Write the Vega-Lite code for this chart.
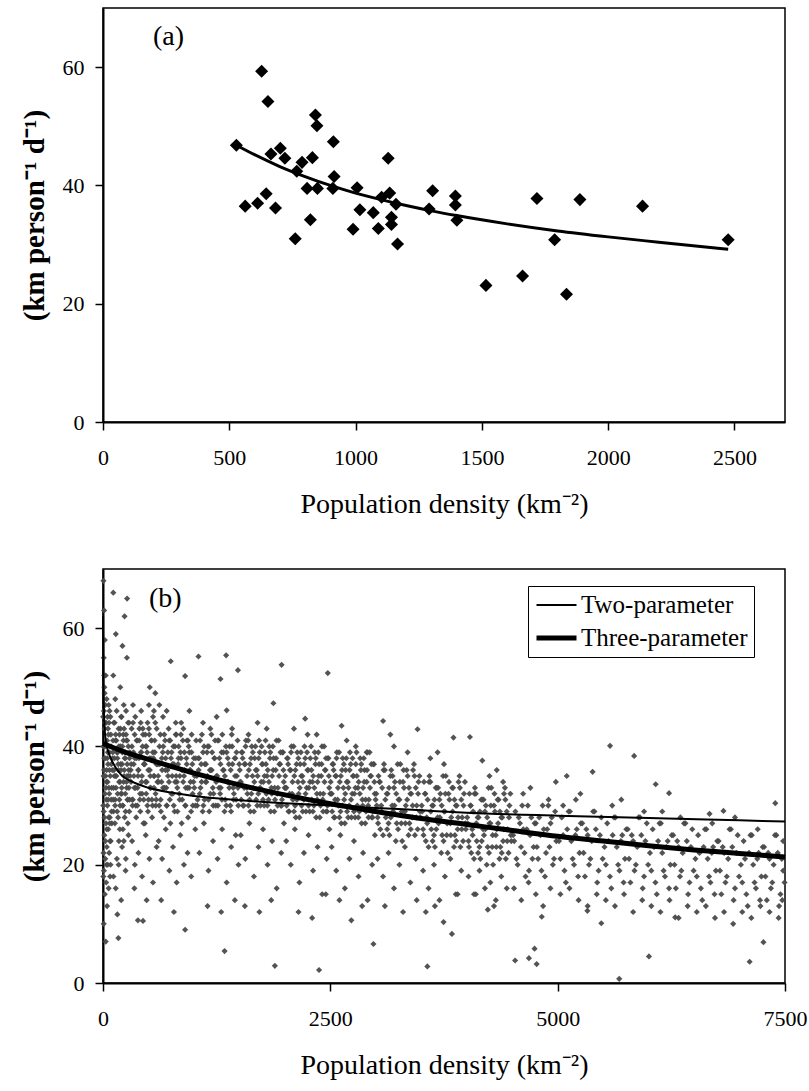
{
"$schema":"https://vega.github.io/schema/vega-lite/v6.json",
"background":"white",
"padding":{"left":19,"top":7,"right":3,"bottom":2},
"spacing":49,
"config":{
 "view":{"stroke":"black","strokeWidth":1.5},
 "font":"Liberation Serif",
 "axis":{"grid":false,"domainColor":"black","domainWidth":2,"tickColor":"black","tickSize":8,"tickWidth":1.5,"labelColor":"black","labelFont":"Liberation Serif","labelFontSize":22,"labelPadding":11,"titleColor":"black","titleFont":"Liberation Serif","labelFlush":false,"format":"d"},
 "axisX":{"labelPadding":17,"titleFontSize":28,"titleFontWeight":"normal","titlePadding":22},
 "axisY":{"titleFontSize":29,"titleFontWeight":"bold","titlePadding":13}
},
"datasets":{
"a":[{"x":528,"y":46.8},{"x":563,"y":36.5},{"x":612,"y":37.0},{"x":628,"y":59.3},{"x":646,"y":38.6},{"x":653,"y":54.2},{"x":665,"y":45.3},{"x":683,"y":36.2},{"x":702,"y":46.3},{"x":720,"y":44.6},{"x":761,"y":31.0},{"x":767,"y":42.4},{"x":788,"y":43.9},{"x":808,"y":39.5},{"x":821,"y":34.2},{"x":829,"y":44.7},{"x":841,"y":51.9},{"x":847,"y":50.1},{"x":849,"y":39.5},{"x":912,"y":47.4},{"x":915,"y":41.5},{"x":910,"y":39.5},{"x":990,"y":32.6},{"x":1006,"y":39.6},{"x":1017,"y":35.9},{"x":1070,"y":35.4},{"x":1090,"y":32.7},{"x":1103,"y":38.0},{"x":1129,"y":44.6},{"x":1135,"y":38.7},{"x":1142,"y":34.6},{"x":1142,"y":33.4},{"x":1160,"y":36.8},{"x":1166,"y":30.1},{"x":1291,"y":36.0},{"x":1305,"y":39.1},{"x":1395,"y":38.2},{"x":1395,"y":36.7},{"x":1401,"y":34.1},{"x":1516,"y":23.1},{"x":1661,"y":24.7},{"x":1718,"y":37.8},{"x":1788,"y":30.8},{"x":1835,"y":21.6},{"x":1888,"y":37.6},{"x":2136,"y":36.5},{"x":2475,"y":30.8}],
"acurve":[{"x":528,"y":46.8},{"x":600,"y":45.2},{"x":700,"y":43.2},{"x":800,"y":41.5},{"x":900,"y":40.0},{"x":1000,"y":38.7},{"x":1100,"y":37.6},{"x":1200,"y":36.6},{"x":1300,"y":35.7},{"x":1400,"y":34.9},{"x":1600,"y":33.5},{"x":1800,"y":32.3},{"x":2000,"y":31.3},{"x":2200,"y":30.4},{"x":2475,"y":29.2}],
"bcurve":[
{"series":"Two-parameter","x":1,"y":62},{"series":"Two-parameter","x":5,"y":50},{"series":"Two-parameter","x":15,"y":44},{"series":"Two-parameter","x":30,"y":41},{"series":"Two-parameter","x":60,"y":39},{"series":"Two-parameter","x":100,"y":37.5},{"series":"Two-parameter","x":200,"y":35.2},{"series":"Two-parameter","x":300,"y":34.2},{"series":"Two-parameter","x":500,"y":33},{"series":"Two-parameter","x":750,"y":32.2},{"series":"Two-parameter","x":1000,"y":31.6},{"series":"Two-parameter","x":1500,"y":30.9},{"series":"Two-parameter","x":2000,"y":30.4},{"series":"Two-parameter","x":2500,"y":30},{"series":"Two-parameter","x":3000,"y":29.6},{"series":"Two-parameter","x":3500,"y":29.2},{"series":"Two-parameter","x":4000,"y":28.8},{"series":"Two-parameter","x":5000,"y":28.3},{"series":"Two-parameter","x":6000,"y":27.9},{"series":"Two-parameter","x":7000,"y":27.5},{"series":"Two-parameter","x":7500,"y":27.3},
{"series":"Three-parameter","x":0,"y":40.5},{"series":"Three-parameter","x":250,"y":39},{"series":"Three-parameter","x":500,"y":37.8},{"series":"Three-parameter","x":1000,"y":35.5},{"series":"Three-parameter","x":1500,"y":33.5},{"series":"Three-parameter","x":2000,"y":31.8},{"series":"Three-parameter","x":2500,"y":30.3},{"series":"Three-parameter","x":3000,"y":29},{"series":"Three-parameter","x":3500,"y":27.8},{"series":"Three-parameter","x":4000,"y":26.8},{"series":"Three-parameter","x":4500,"y":25.8},{"series":"Three-parameter","x":5000,"y":24.8},{"series":"Three-parameter","x":5500,"y":24},{"series":"Three-parameter","x":6000,"y":23.2},{"series":"Three-parameter","x":6500,"y":22.5},{"series":"Three-parameter","x":7000,"y":21.9},{"series":"Three-parameter","x":7500,"y":21.3}],
"b":[
{"x":5,"y":68},{"x":12,"y":63},{"x":20,"y":58},{"x":8,"y":55},{"x":30,"y":52},{"x":15,"y":50},{"x":40,"y":48},{"x":25,"y":47},{"x":10,"y":46},{"x":50,"y":45},{"x":35,"y":44},{"x":18,"y":43},{"x":60,"y":42},{"x":45,"y":41},{"x":5,"y":40},{"x":70,"y":39},{"x":28,"y":38},{"x":55,"y":37},{"x":12,"y":36},{"x":80,"y":35},{"x":38,"y":34},{"x":65,"y":33},{"x":22,"y":32},{"x":90,"y":31},{"x":48,"y":30},{"x":8,"y":29},{"x":75,"y":28},{"x":33,"y":27},{"x":58,"y":26},{"x":15,"y":25},{"x":85,"y":24},{"x":42,"y":23},{"x":68,"y":22},{"x":25,"y":21},{"x":52,"y":20},{"x":10,"y":19},{"x":78,"y":18},{"x":35,"y":17},{"x":62,"y":16},{"x":20,"y":15},{"x":45,"y":13},{"x":8,"y":10},{"x":30,"y":7},{"x":55,"y":43},{"x":72,"y":46},{"x":88,"y":40},{"x":18,"y":49},{"x":40,"y":36},{"x":95,"y":33},{"x":3,"y":30},{"x":62,"y":28},{"x":27,"y":24},{"x":83,"y":20},{"x":50,"y":34},{"x":14,"y":38},{"x":66,"y":44},{"x":92,"y":37},{"x":36,"y":31},{"x":6,"y":22},{"x":74,"y":27},
{"x":2,"y":45},{"x":7,"y":35},{"x":16,"y":28},{"x":23,"y":40},{"x":32,"y":33},{"x":41,"y":26},{"x":47,"y":38},{"x":57,"y":31},{"x":63,"y":47},{"x":71,"y":36},{"x":77,"y":24},{"x":86,"y":42},{"x":93,"y":29},{"x":4,"y":18},{"x":13,"y":52},{"x":21,"y":44},{"x":29,"y":35},{"x":38,"y":20},{"x":53,"y":39},{"x":69,"y":32},{"x":81,"y":45},{"x":97,"y":27},
{"x":105,"y":38},{"x":112,"y":31},{"x":118,"y":44},{"x":124,"y":35},{"x":131,"y":27},{"x":137,"y":41},{"x":143,"y":33},{"x":150,"y":46},{"x":156,"y":29},{"x":162,"y":39},{"x":169,"y":36},{"x":175,"y":24},{"x":181,"y":42},{"x":188,"y":30},{"x":194,"y":37},{"x":200,"y":45},{"x":207,"y":32},{"x":213,"y":40},{"x":219,"y":26},{"x":226,"y":34},{"x":232,"y":43},{"x":238,"y":28},{"x":245,"y":38},{"x":251,"y":21},{"x":257,"y":41},{"x":264,"y":35},{"x":270,"y":31},{"x":276,"y":44},{"x":283,"y":36},{"x":289,"y":29},{"x":295,"y":39},
{"x":108,"y":39},{"x":115,"y":29},{"x":121,"y":36},{"x":128,"y":44},{"x":134,"y":31},{"x":140,"y":35},{"x":147,"y":41},{"x":153,"y":21},{"x":159,"y":38},{"x":166,"y":28},{"x":172,"y":43},{"x":178,"y":34},{"x":185,"y":26},{"x":191,"y":40},{"x":197,"y":32},{"x":204,"y":45},{"x":210,"y":37},{"x":216,"y":30},{"x":223,"y":42},{"x":229,"y":24},{"x":235,"y":36},{"x":242,"y":39},{"x":248,"y":29},{"x":254,"y":46},{"x":261,"y":33},{"x":267,"y":41},{"x":273,"y":27},{"x":280,"y":35},{"x":286,"y":44},{"x":292,"y":31},
{"x":103,"y":36},{"x":110,"y":41},{"x":117,"y":33},{"x":126,"y":38},{"x":133,"y":30},{"x":139,"y":42},{"x":146,"y":35},{"x":152,"y":39},{"x":161,"y":32},{"x":167,"y":37},{"x":174,"y":40},{"x":180,"y":31},{"x":187,"y":34},{"x":193,"y":43},{"x":199,"y":36},{"x":206,"y":33},{"x":212,"y":39},{"x":218,"y":30},{"x":225,"y":41},{"x":231,"y":35},{"x":239,"y":38},{"x":246,"y":32},{"x":253,"y":42},{"x":259,"y":34},{"x":266,"y":37},{"x":272,"y":31},{"x":279,"y":40},{"x":285,"y":33},{"x":291,"y":38},{"x":298,"y":35},
{"x":115,"y":18},{"x":140,"y":16},{"x":172,"y":20},{"x":210,"y":23},{"x":248,"y":19},{"x":280,"y":25},{"x":135,"y":48},{"x":190,"y":50},{"x":228,"y":47},{"x":113,"y":52},{"x":263,"y":55},{"x":141,"y":59},{"x":214,"y":57},{"x":113,"y":66},{"x":265,"y":65},{"x":237,"y":62},{"x":158,"y":11.6},{"x":169,"y":7.6},{"x":200,"y":14},
{"x":305,"y":36},{"x":315,"y":43},{"x":325,"y":30},{"x":335,"y":39},{"x":345,"y":33},{"x":355,"y":45},{"x":365,"y":28},{"x":375,"y":41},{"x":385,"y":35},{"x":395,"y":38},{"x":405,"y":31},{"x":415,"y":44},{"x":425,"y":34},{"x":435,"y":40},{"x":445,"y":27},{"x":455,"y":37},{"x":465,"y":42},{"x":475,"y":32},{"x":485,"y":39},{"x":495,"y":29},{"x":505,"y":43},{"x":515,"y":36},{"x":525,"y":33},{"x":535,"y":41},{"x":545,"y":30},{"x":555,"y":38},{"x":565,"y":35},{"x":575,"y":44},{"x":585,"y":31},{"x":595,"y":37},
{"x":310,"y":37},{"x":320,"y":31},{"x":330,"y":44},{"x":340,"y":35},{"x":350,"y":38},{"x":360,"y":30},{"x":370,"y":41},{"x":380,"y":33},{"x":390,"y":36},{"x":400,"y":43},{"x":410,"y":29},{"x":420,"y":39},{"x":430,"y":32},{"x":440,"y":42},{"x":450,"y":37},{"x":460,"y":27},{"x":470,"y":40},{"x":480,"y":34},{"x":490,"y":44},{"x":500,"y":31},{"x":510,"y":38},{"x":520,"y":35},{"x":530,"y":41},{"x":540,"y":28},{"x":550,"y":45},{"x":560,"y":33},{"x":570,"y":39},{"x":580,"y":30},{"x":590,"y":43},
{"x":308,"y":34},{"x":318,"y":40},{"x":328,"y":31},{"x":338,"y":37},{"x":348,"y":42},{"x":358,"y":33},{"x":368,"y":38},{"x":378,"y":30},{"x":388,"y":36},{"x":398,"y":41},{"x":408,"y":32},{"x":418,"y":39},{"x":428,"y":35},{"x":438,"y":43},{"x":448,"y":31},{"x":458,"y":37},{"x":468,"y":34},{"x":478,"y":40},{"x":488,"y":30},{"x":498,"y":36},{"x":508,"y":42},{"x":518,"y":33},{"x":528,"y":38},{"x":538,"y":31},{"x":548,"y":39},{"x":558,"y":35},{"x":568,"y":41},{"x":578,"y":32},{"x":588,"y":37},{"x":598,"y":34},
{"x":320,"y":24},{"x":350,"y":20},{"x":390,"y":22},{"x":430,"y":18},{"x":470,"y":25},{"x":510,"y":21},{"x":550,"y":17},{"x":590,"y":23},{"x":345,"y":16},{"x":480,"y":14},{"x":384,"y":10.6},{"x":440,"y":10.5},{"x":514,"y":50},{"x":575,"y":49},{"x":505,"y":47},{"x":330,"y":47},{"x":420,"y":46},{"x":560,"y":46},
{"x":605,"y":37},{"x":618,"y":30},{"x":631,"y":42},{"x":644,"y":34},{"x":657,"y":39},{"x":670,"y":28},{"x":683,"y":41},{"x":696,"y":33},{"x":709,"y":36},{"x":722,"y":43},{"x":735,"y":31},{"x":748,"y":38},{"x":761,"y":35},{"x":774,"y":40},{"x":787,"y":29},{"x":800,"y":42},{"x":813,"y":34},{"x":826,"y":37},{"x":839,"y":32},{"x":852,"y":39},{"x":865,"y":27},{"x":878,"y":41},{"x":891,"y":35},{"x":904,"y":30},{"x":917,"y":38},{"x":930,"y":33},{"x":943,"y":40},{"x":956,"y":36},{"x":969,"y":29},{"x":982,"y":37},{"x":995,"y":34},
{"x":611,"y":34},{"x":624,"y":37},{"x":637,"y":29},{"x":650,"y":36},{"x":663,"y":40},{"x":676,"y":33},{"x":689,"y":38},{"x":702,"y":30},{"x":715,"y":35},{"x":728,"y":41},{"x":741,"y":27},{"x":754,"y":39},{"x":767,"y":32},{"x":780,"y":37},{"x":793,"y":34},{"x":806,"y":42},{"x":819,"y":29},{"x":832,"y":40},{"x":845,"y":35},{"x":858,"y":38},{"x":871,"y":31},{"x":884,"y":43},{"x":897,"y":36},{"x":910,"y":33},{"x":923,"y":41},{"x":936,"y":28},{"x":949,"y":39},{"x":962,"y":34},{"x":975,"y":42},{"x":988,"y":30},
{"x":607,"y":35},{"x":621,"y":40},{"x":634,"y":31},{"x":647,"y":38},{"x":661,"y":33},{"x":674,"y":42},{"x":687,"y":36},{"x":700,"y":30},{"x":713,"y":39},{"x":726,"y":34},{"x":739,"y":41},{"x":752,"y":32},{"x":765,"y":37},{"x":778,"y":30},{"x":791,"y":40},{"x":804,"y":35},{"x":817,"y":33},{"x":830,"y":38},{"x":843,"y":31},{"x":856,"y":42},{"x":869,"y":36},{"x":882,"y":34},{"x":895,"y":39},{"x":908,"y":30},{"x":921,"y":37},{"x":934,"y":41},{"x":947,"y":33},{"x":960,"y":36},{"x":973,"y":39},{"x":986,"y":32},{"x":999,"y":38},
{"x":612,"y":24},{"x":650,"y":21},{"x":690,"y":26},{"x":730,"y":19},{"x":770,"y":23},{"x":810,"y":17},{"x":850,"y":25},{"x":890,"y":20},{"x":930,"y":22},{"x":970,"y":18},{"x":640,"y":14},{"x":780,"y":12},{"x":903,"y":9.0},{"x":745,"y":54.4},{"x":903,"y":51.9},{"x":620,"y":47},{"x":700,"y":46},{"x":860,"y":44},{"x":950,"y":46},{"x":660,"y":45},{"x":800,"y":44},
{"x":1008,"y":35},{"x":1024,"y":41},{"x":1040,"y":31},{"x":1056,"y":38},{"x":1072,"y":33},{"x":1088,"y":42},{"x":1104,"y":30},{"x":1120,"y":37},{"x":1136,"y":34},{"x":1152,"y":40},{"x":1168,"y":29},{"x":1184,"y":36},{"x":1200,"y":39},{"x":1216,"y":32},{"x":1232,"y":41},{"x":1248,"y":35},{"x":1264,"y":30},{"x":1280,"y":38},{"x":1296,"y":33},{"x":1312,"y":42},{"x":1328,"y":36},{"x":1344,"y":31},{"x":1360,"y":39},{"x":1376,"y":34},{"x":1392,"y":40},{"x":1408,"y":29},{"x":1424,"y":37},{"x":1440,"y":32},{"x":1456,"y":38},{"x":1472,"y":35},{"x":1488,"y":30},
{"x":1016,"y":30},{"x":1032,"y":35},{"x":1048,"y":38},{"x":1064,"y":32},{"x":1080,"y":37},{"x":1096,"y":29},{"x":1112,"y":40},{"x":1128,"y":34},{"x":1144,"y":39},{"x":1160,"y":31},{"x":1176,"y":36},{"x":1192,"y":42},{"x":1208,"y":33},{"x":1224,"y":38},{"x":1240,"y":30},{"x":1256,"y":35},{"x":1272,"y":41},{"x":1288,"y":32},{"x":1304,"y":39},{"x":1320,"y":36},{"x":1336,"y":29},{"x":1352,"y":40},{"x":1368,"y":34},{"x":1384,"y":37},{"x":1400,"y":30},{"x":1416,"y":42},{"x":1432,"y":33},{"x":1448,"y":38},{"x":1464,"y":31},{"x":1480,"y":41},
{"x":1004,"y":33},{"x":1020,"y":38},{"x":1036,"y":30},{"x":1052,"y":36},{"x":1068,"y":41},{"x":1084,"y":34},{"x":1100,"y":39},{"x":1116,"y":31},{"x":1132,"y":37},{"x":1148,"y":35},{"x":1164,"y":40},{"x":1180,"y":32},{"x":1196,"y":36},{"x":1212,"y":30},{"x":1228,"y":38},{"x":1244,"y":34},{"x":1260,"y":41},{"x":1276,"y":33},{"x":1292,"y":37},{"x":1308,"y":31},{"x":1324,"y":39},{"x":1340,"y":35},{"x":1356,"y":30},{"x":1372,"y":38},{"x":1388,"y":33},{"x":1404,"y":36},{"x":1420,"y":40},{"x":1436,"y":31},{"x":1452,"y":35},{"x":1468,"y":39},{"x":1484,"y":33},{"x":1498,"y":37},
{"x":1015,"y":26},{"x":1060,"y":22},{"x":1110,"y":27},{"x":1160,"y":19},{"x":1210,"y":24},{"x":1260,"y":21},{"x":1310,"y":26},{"x":1360,"y":17},{"x":1410,"y":23},{"x":1460,"y":25},{"x":1490,"y":20},{"x":1150,"y":13},{"x":1300,"y":12},{"x":1450,"y":14},{"x":1337,"y":5.4},{"x":1050,"y":55.2},{"x":1354,"y":55.4},{"x":1292,"y":51.4},{"x":1484,"y":52.9},{"x":1360,"y":46.1},{"x":1100,"y":44},{"x":1250,"y":45},{"x":1420,"y":43},{"x":1180,"y":43},
{"x":1508,"y":34},{"x":1524,"y":39},{"x":1540,"y":30},{"x":1556,"y":37},{"x":1572,"y":41},{"x":1588,"y":32},{"x":1604,"y":36},{"x":1620,"y":29},{"x":1636,"y":40},{"x":1652,"y":33},{"x":1668,"y":38},{"x":1684,"y":31},{"x":1700,"y":35},{"x":1716,"y":41},{"x":1732,"y":30},{"x":1748,"y":37},{"x":1764,"y":34},{"x":1780,"y":39},{"x":1796,"y":32},{"x":1812,"y":36},{"x":1828,"y":40},{"x":1844,"y":29},{"x":1860,"y":35},{"x":1876,"y":38},{"x":1892,"y":31},{"x":1908,"y":41},{"x":1924,"y":33},{"x":1940,"y":37},{"x":1956,"y":30},{"x":1972,"y":39},{"x":1988,"y":34},
{"x":1516,"y":34},{"x":1532,"y":39},{"x":1548,"y":30},{"x":1564,"y":37},{"x":1580,"y":33},{"x":1596,"y":41},{"x":1612,"y":31},{"x":1628,"y":38},{"x":1644,"y":35},{"x":1660,"y":29},{"x":1676,"y":40},{"x":1692,"y":36},{"x":1708,"y":32},{"x":1724,"y":39},{"x":1740,"y":34},{"x":1756,"y":37},{"x":1772,"y":30},{"x":1788,"y":41},{"x":1804,"y":35},{"x":1820,"y":31},{"x":1836,"y":38},{"x":1852,"y":33},{"x":1868,"y":40},{"x":1884,"y":29},{"x":1900,"y":36},{"x":1916,"y":32},{"x":1932,"y":41},{"x":1948,"y":37},{"x":1964,"y":30},{"x":1980,"y":39},
{"x":1504,"y":36},{"x":1520,"y":31},{"x":1536,"y":38},{"x":1552,"y":33},{"x":1568,"y":40},{"x":1584,"y":35},{"x":1600,"y":30},{"x":1616,"y":37},{"x":1632,"y":32},{"x":1648,"y":39},{"x":1664,"y":34},{"x":1680,"y":36},{"x":1696,"y":30},{"x":1712,"y":38},{"x":1728,"y":33},{"x":1744,"y":40},{"x":1760,"y":31},{"x":1776,"y":35},{"x":1792,"y":37},{"x":1808,"y":30},{"x":1824,"y":34},{"x":1840,"y":39},{"x":1856,"y":32},{"x":1872,"y":36},{"x":1888,"y":33},{"x":1904,"y":38},{"x":1920,"y":30},{"x":1936,"y":35},{"x":1952,"y":39},{"x":1968,"y":31},{"x":1984,"y":36},{"x":1998,"y":33},
{"x":1515,"y":25},{"x":1565,"y":21},{"x":1610,"y":27},{"x":1660,"y":18},{"x":1710,"y":23},{"x":1760,"y":26},{"x":1810,"y":20},{"x":1860,"y":24},{"x":1910,"y":16},{"x":1960,"y":22},{"x":1990,"y":27},{"x":1560,"y":13},{"x":1720,"y":12},{"x":1850,"y":14},{"x":1890,"y":2.9},{"x":1964,"y":53.8},{"x":1874,"y":47.3},{"x":1700,"y":44},{"x":1600,"y":42},{"x":1800,"y":43},
{"x":2008,"y":33},{"x":2024,"y":38},{"x":2040,"y":29},{"x":2056,"y":36},{"x":2072,"y":40},{"x":2088,"y":31},{"x":2104,"y":35},{"x":2120,"y":28},{"x":2136,"y":39},{"x":2152,"y":32},{"x":2168,"y":37},{"x":2184,"y":30},{"x":2200,"y":34},{"x":2216,"y":40},{"x":2232,"y":29},{"x":2248,"y":36},{"x":2264,"y":33},{"x":2280,"y":38},{"x":2296,"y":31},{"x":2312,"y":35},{"x":2328,"y":39},{"x":2344,"y":28},{"x":2360,"y":34},{"x":2376,"y":37},{"x":2392,"y":30},{"x":2408,"y":40},{"x":2424,"y":32},{"x":2440,"y":36},{"x":2456,"y":29},{"x":2472,"y":38},{"x":2488,"y":33},
{"x":2016,"y":33},{"x":2032,"y":38},{"x":2048,"y":29},{"x":2064,"y":36},{"x":2080,"y":32},{"x":2096,"y":40},{"x":2112,"y":30},{"x":2128,"y":37},{"x":2144,"y":34},{"x":2160,"y":28},{"x":2176,"y":39},{"x":2192,"y":35},{"x":2208,"y":31},{"x":2224,"y":38},{"x":2240,"y":33},{"x":2256,"y":36},{"x":2272,"y":29},{"x":2288,"y":40},{"x":2304,"y":34},{"x":2320,"y":30},{"x":2336,"y":37},{"x":2352,"y":32},{"x":2368,"y":39},{"x":2384,"y":28},{"x":2400,"y":35},{"x":2416,"y":31},{"x":2432,"y":40},{"x":2448,"y":36},{"x":2464,"y":29},{"x":2480,"y":38},
{"x":2004,"y":35},{"x":2020,"y":30},{"x":2036,"y":37},{"x":2052,"y":32},{"x":2068,"y":39},{"x":2084,"y":34},{"x":2100,"y":29},{"x":2116,"y":36},{"x":2132,"y":31},{"x":2148,"y":38},{"x":2164,"y":33},{"x":2180,"y":35},{"x":2196,"y":29},{"x":2212,"y":37},{"x":2228,"y":32},{"x":2244,"y":39},{"x":2260,"y":30},{"x":2276,"y":34},{"x":2292,"y":36},{"x":2308,"y":29},{"x":2324,"y":33},{"x":2340,"y":38},{"x":2356,"y":31},{"x":2372,"y":35},{"x":2388,"y":32},{"x":2404,"y":37},{"x":2420,"y":29},{"x":2436,"y":34},{"x":2452,"y":38},{"x":2468,"y":30},{"x":2484,"y":35},{"x":2498,"y":32},
{"x":2015,"y":24},{"x":2065,"y":20},{"x":2110,"y":26},{"x":2160,"y":17},{"x":2210,"y":22},{"x":2260,"y":25},{"x":2310,"y":19},{"x":2360,"y":23},{"x":2410,"y":15},{"x":2460,"y":21},{"x":2490,"y":26},{"x":2150,"y":12},{"x":2300,"y":11},{"x":2450,"y":15},{"x":2376,"y":2.2},{"x":2223,"y":44.7},{"x":2472,"y":52.4},{"x":2100,"y":43},{"x":2350,"y":42},{"x":2250,"y":42},
{"x":2508,"y":32},{"x":2524,"y":37},{"x":2540,"y":28},{"x":2556,"y":35},{"x":2572,"y":39},{"x":2588,"y":30},{"x":2604,"y":34},{"x":2620,"y":27},{"x":2636,"y":38},{"x":2652,"y":31},{"x":2668,"y":36},{"x":2684,"y":29},{"x":2700,"y":33},{"x":2716,"y":39},{"x":2732,"y":28},{"x":2748,"y":35},{"x":2764,"y":32},{"x":2780,"y":37},{"x":2796,"y":30},{"x":2812,"y":34},{"x":2828,"y":38},{"x":2844,"y":27},{"x":2860,"y":33},{"x":2876,"y":36},{"x":2892,"y":29},{"x":2908,"y":39},{"x":2924,"y":31},{"x":2940,"y":35},{"x":2956,"y":28},{"x":2972,"y":37},{"x":2988,"y":32},
{"x":2516,"y":32},{"x":2532,"y":37},{"x":2548,"y":28},{"x":2564,"y":35},{"x":2580,"y":31},{"x":2596,"y":39},{"x":2612,"y":29},{"x":2628,"y":36},{"x":2644,"y":33},{"x":2660,"y":27},{"x":2676,"y":38},{"x":2692,"y":34},{"x":2708,"y":30},{"x":2724,"y":37},{"x":2740,"y":32},{"x":2756,"y":35},{"x":2772,"y":28},{"x":2788,"y":39},{"x":2804,"y":33},{"x":2820,"y":29},{"x":2836,"y":36},{"x":2852,"y":31},{"x":2868,"y":38},{"x":2884,"y":27},{"x":2900,"y":34},{"x":2916,"y":30},{"x":2932,"y":39},{"x":2948,"y":35},{"x":2964,"y":28},{"x":2980,"y":37},
{"x":2504,"y":34},{"x":2520,"y":29},{"x":2536,"y":36},{"x":2552,"y":31},{"x":2568,"y":38},{"x":2584,"y":33},{"x":2600,"y":28},{"x":2616,"y":35},{"x":2632,"y":30},{"x":2648,"y":37},{"x":2664,"y":32},{"x":2680,"y":34},{"x":2696,"y":28},{"x":2712,"y":36},{"x":2728,"y":31},{"x":2744,"y":38},{"x":2760,"y":29},{"x":2776,"y":33},{"x":2792,"y":35},{"x":2808,"y":28},{"x":2824,"y":32},{"x":2840,"y":37},{"x":2856,"y":30},{"x":2872,"y":34},{"x":2888,"y":31},{"x":2904,"y":36},{"x":2920,"y":28},{"x":2936,"y":33},{"x":2952,"y":37},{"x":2968,"y":29},{"x":2984,"y":34},{"x":2998,"y":31},
{"x":2515,"y":23},{"x":2565,"y":19},{"x":2610,"y":25},{"x":2660,"y":16},{"x":2710,"y":21},{"x":2760,"y":24},{"x":2810,"y":18},{"x":2860,"y":22},{"x":2910,"y":14},{"x":2960,"y":20},{"x":2990,"y":25},{"x":2600,"y":14},{"x":2850,"y":13},{"x":2731,"y":10.6},{"x":2974,"y":6.6},{"x":2624,"y":43.5},{"x":2780,"y":40},{"x":2900,"y":39},{"x":2680,"y":41},
{"x":3010,"y":30},{"x":3030,"y":35},{"x":3050,"y":26},{"x":3070,"y":33},{"x":3090,"y":37},{"x":3110,"y":28},{"x":3130,"y":32},{"x":3150,"y":25},{"x":3170,"y":36},{"x":3190,"y":29},{"x":3210,"y":34},{"x":3230,"y":27},{"x":3250,"y":31},{"x":3270,"y":37},{"x":3290,"y":24},{"x":3310,"y":33},{"x":3330,"y":30},{"x":3350,"y":35},{"x":3370,"y":27},{"x":3390,"y":32},{"x":3410,"y":36},{"x":3430,"y":25},{"x":3450,"y":30},{"x":3470,"y":34},{"x":3490,"y":28},
{"x":3020,"y":28},{"x":3040,"y":34},{"x":3060,"y":30},{"x":3080,"y":25},{"x":3100,"y":36},{"x":3120,"y":32},{"x":3140,"y":27},{"x":3160,"y":35},{"x":3180,"y":30},{"x":3200,"y":33},{"x":3220,"y":24},{"x":3240,"y":37},{"x":3260,"y":31},{"x":3280,"y":27},{"x":3300,"y":34},{"x":3320,"y":29},{"x":3340,"y":36},{"x":3360,"y":25},{"x":3380,"y":32},{"x":3400,"y":28},{"x":3420,"y":37},{"x":3440,"y":33},{"x":3460,"y":26},{"x":3480,"y":35},
{"x":3005,"y":32},{"x":3025,"y":27},{"x":3045,"y":34},{"x":3065,"y":29},{"x":3085,"y":36},{"x":3105,"y":31},{"x":3125,"y":26},{"x":3145,"y":33},{"x":3165,"y":28},{"x":3185,"y":35},{"x":3205,"y":30},{"x":3225,"y":32},{"x":3245,"y":26},{"x":3265,"y":34},{"x":3285,"y":29},{"x":3305,"y":36},{"x":3325,"y":27},{"x":3345,"y":31},{"x":3365,"y":33},{"x":3385,"y":26},{"x":3405,"y":30},{"x":3425,"y":35},{"x":3445,"y":28},{"x":3465,"y":32},{"x":3485,"y":29},
{"x":3020,"y":21},{"x":3080,"y":18},{"x":3140,"y":22},{"x":3200,"y":16},{"x":3260,"y":20},{"x":3320,"y":23},{"x":3380,"y":17},{"x":3440,"y":21},{"x":3100,"y":13},{"x":3300,"y":12},{"x":3450,"y":14},{"x":3080,"y":44.3},{"x":3459,"y":42.9},{"x":3200,"y":40},{"x":3350,"y":39},{"x":3160,"y":42},
{"x":3510,"y":29},{"x":3530,"y":34},{"x":3550,"y":24},{"x":3570,"y":31},{"x":3590,"y":35},{"x":3610,"y":26},{"x":3630,"y":30},{"x":3650,"y":23},{"x":3670,"y":33},{"x":3690,"y":27},{"x":3710,"y":32},{"x":3730,"y":25},{"x":3750,"y":29},{"x":3770,"y":35},{"x":3790,"y":22},{"x":3810,"y":31},{"x":3830,"y":28},{"x":3850,"y":33},{"x":3870,"y":25},{"x":3890,"y":30},{"x":3910,"y":34},{"x":3930,"y":23},{"x":3950,"y":28},{"x":3970,"y":32},{"x":3990,"y":26},
{"x":3520,"y":26},{"x":3540,"y":32},{"x":3560,"y":28},{"x":3580,"y":23},{"x":3600,"y":34},{"x":3620,"y":30},{"x":3640,"y":25},{"x":3660,"y":33},{"x":3680,"y":28},{"x":3700,"y":31},{"x":3720,"y":22},{"x":3740,"y":35},{"x":3760,"y":29},{"x":3780,"y":25},{"x":3800,"y":32},{"x":3820,"y":27},{"x":3840,"y":33},{"x":3860,"y":23},{"x":3880,"y":30},{"x":3900,"y":26},{"x":3920,"y":35},{"x":3940,"y":31},{"x":3960,"y":24},{"x":3980,"y":34},
{"x":3505,"y":30},{"x":3525,"y":25},{"x":3545,"y":32},{"x":3565,"y":27},{"x":3585,"y":34},{"x":3605,"y":29},{"x":3625,"y":24},{"x":3645,"y":31},{"x":3665,"y":26},{"x":3685,"y":33},{"x":3705,"y":28},{"x":3725,"y":30},{"x":3745,"y":24},{"x":3765,"y":32},{"x":3785,"y":27},{"x":3805,"y":34},{"x":3825,"y":25},{"x":3845,"y":29},{"x":3865,"y":31},{"x":3885,"y":24},{"x":3905,"y":28},{"x":3925,"y":33},{"x":3945,"y":26},{"x":3965,"y":30},{"x":3985,"y":27},
{"x":3520,"y":19},{"x":3580,"y":16},{"x":3640,"y":20},{"x":3700,"y":14},{"x":3760,"y":18},{"x":3820,"y":21},{"x":3880,"y":15},{"x":3940,"y":19},{"x":3650,"y":13},{"x":3900,"y":15},{"x":3550,"y":12},{"x":3567,"y":2.8},{"x":3837,"y":8.3},{"x":3745,"y":10.3},{"x":3854,"y":41.5},{"x":3600,"y":38},{"x":3750,"y":37},{"x":3680,"y":39},
{"x":4010,"y":27},{"x":4030,"y":32},{"x":4050,"y":22},{"x":4070,"y":29},{"x":4090,"y":33},{"x":4110,"y":24},{"x":4130,"y":28},{"x":4150,"y":21},{"x":4170,"y":31},{"x":4190,"y":25},{"x":4210,"y":30},{"x":4230,"y":23},{"x":4250,"y":27},{"x":4270,"y":33},{"x":4290,"y":20},{"x":4310,"y":29},{"x":4330,"y":26},{"x":4350,"y":31},{"x":4370,"y":23},{"x":4390,"y":28},{"x":4410,"y":32},{"x":4430,"y":21},{"x":4450,"y":26},{"x":4470,"y":30},{"x":4490,"y":24},
{"x":4020,"y":24},{"x":4040,"y":30},{"x":4060,"y":26},{"x":4080,"y":21},{"x":4100,"y":32},{"x":4120,"y":28},{"x":4140,"y":23},{"x":4160,"y":31},{"x":4180,"y":26},{"x":4200,"y":29},{"x":4220,"y":20},{"x":4240,"y":33},{"x":4260,"y":27},{"x":4280,"y":23},{"x":4300,"y":30},{"x":4320,"y":25},{"x":4340,"y":31},{"x":4360,"y":21},{"x":4380,"y":28},{"x":4400,"y":24},{"x":4420,"y":33},{"x":4440,"y":29},{"x":4460,"y":22},{"x":4480,"y":32},
{"x":4005,"y":28},{"x":4025,"y":23},{"x":4045,"y":30},{"x":4065,"y":25},{"x":4085,"y":32},{"x":4105,"y":27},{"x":4125,"y":22},{"x":4145,"y":29},{"x":4165,"y":24},{"x":4185,"y":31},{"x":4205,"y":26},{"x":4225,"y":28},{"x":4245,"y":22},{"x":4265,"y":30},{"x":4285,"y":25},{"x":4305,"y":32},{"x":4325,"y":23},{"x":4345,"y":27},{"x":4365,"y":29},{"x":4385,"y":22},{"x":4405,"y":26},{"x":4425,"y":31},{"x":4445,"y":24},{"x":4465,"y":28},{"x":4485,"y":25},
{"x":4020,"y":18},{"x":4080,"y":15},{"x":4140,"y":19},{"x":4200,"y":16},{"x":4260,"y":17},{"x":4320,"y":14},{"x":4380,"y":18},{"x":4440,"y":16},{"x":4100,"y":15},{"x":4300,"y":13},{"x":4232,"y":12.4},{"x":4035,"y":41.6},{"x":4171,"y":37.6},{"x":4250,"y":35},{"x":4400,"y":34},{"x":4330,"y":36},
{"x":4510,"y":25},{"x":4535,"y":29},{"x":4560,"y":20},{"x":4585,"y":27},{"x":4610,"y":30},{"x":4635,"y":22},{"x":4660,"y":26},{"x":4685,"y":19},{"x":4710,"y":28},{"x":4735,"y":23},{"x":4760,"y":27},{"x":4785,"y":21},{"x":4810,"y":25},{"x":4835,"y":30},{"x":4860,"y":18},{"x":4885,"y":26},{"x":4910,"y":23},{"x":4935,"y":28},{"x":4960,"y":21},{"x":4985,"y":24},
{"x":4522,"y":24},{"x":4547,"y":21},{"x":4572,"y":28},{"x":4597,"y":23},{"x":4622,"y":26},{"x":4647,"y":18},{"x":4672,"y":30},{"x":4697,"y":25},{"x":4722,"y":21},{"x":4747,"y":27},{"x":4772,"y":23},{"x":4797,"y":28},{"x":4822,"y":19},{"x":4847,"y":26},{"x":4872,"y":22},{"x":4897,"y":30},{"x":4922,"y":27},{"x":4947,"y":20},{"x":4972,"y":29},
{"x":4520,"y":16},{"x":4600,"y":14},{"x":4680,"y":17},{"x":4760,"y":15},{"x":4840,"y":13},{"x":4920,"y":16},{"x":4532,"y":3.8},{"x":4684,"y":4.2},{"x":4769,"y":3.2},{"x":4746,"y":5.8},{"x":4825,"y":11.2},{"x":4700,"y":33},{"x":4900,"y":31},{"x":4980,"y":34},{"x":4620,"y":32},
{"x":5015,"y":24},{"x":5045,"y":28},{"x":5075,"y":19},{"x":5105,"y":26},{"x":5135,"y":29},{"x":5165,"y":21},{"x":5195,"y":25},{"x":5225,"y":18},{"x":5255,"y":27},{"x":5285,"y":22},{"x":5315,"y":26},{"x":5345,"y":20},{"x":5375,"y":24},{"x":5405,"y":29},{"x":5435,"y":17},{"x":5465,"y":25},{"x":5495,"y":21},
{"x":5030,"y":21},{"x":5060,"y":25},{"x":5090,"y":17},{"x":5120,"y":29},{"x":5150,"y":24},{"x":5180,"y":20},{"x":5210,"y":26},{"x":5240,"y":22},{"x":5270,"y":27},{"x":5300,"y":18},{"x":5330,"y":25},{"x":5360,"y":21},{"x":5390,"y":29},{"x":5420,"y":26},{"x":5450,"y":19},{"x":5480,"y":28},
{"x":5030,"y":15},{"x":5130,"y":16},{"x":5230,"y":14},{"x":5330,"y":13},{"x":5430,"y":15},{"x":5480,"y":10.1},{"x":5327,"y":12.2},{"x":5384,"y":35.7},{"x":5100,"y":35},{"x":5250,"y":32},{"x":5200,"y":31},{"x":5060,"y":30},
{"x":5515,"y":23},{"x":5545,"y":27},{"x":5575,"y":18},{"x":5605,"y":25},{"x":5635,"y":28},{"x":5665,"y":20},{"x":5695,"y":24},{"x":5725,"y":17},{"x":5755,"y":26},{"x":5785,"y":21},{"x":5815,"y":25},{"x":5845,"y":19},{"x":5875,"y":23},{"x":5905,"y":28},{"x":5935,"y":16},{"x":5965,"y":24},{"x":5995,"y":20},
{"x":5530,"y":20},{"x":5560,"y":24},{"x":5590,"y":16},{"x":5620,"y":28},{"x":5650,"y":23},{"x":5680,"y":19},{"x":5710,"y":25},{"x":5740,"y":21},{"x":5770,"y":26},{"x":5800,"y":17},{"x":5830,"y":24},{"x":5860,"y":20},{"x":5890,"y":28},{"x":5920,"y":25},{"x":5950,"y":18},{"x":5980,"y":27},
{"x":5530,"y":14},{"x":5630,"y":13},{"x":5730,"y":15},{"x":5830,"y":12},{"x":5930,"y":14},{"x":5677,"y":0.7},{"x":5576,"y":40.1},{"x":5841,"y":38.4},{"x":5700,"y":31},{"x":5600,"y":30},{"x":5950,"y":29},
{"x":6015,"y":22},{"x":6045,"y":26},{"x":6075,"y":17},{"x":6105,"y":24},{"x":6135,"y":27},{"x":6165,"y":19},{"x":6195,"y":23},{"x":6225,"y":16},{"x":6255,"y":25},{"x":6285,"y":20},{"x":6315,"y":24},{"x":6345,"y":18},{"x":6375,"y":22},{"x":6405,"y":27},{"x":6435,"y":15},{"x":6465,"y":23},{"x":6495,"y":19},
{"x":6030,"y":19},{"x":6060,"y":23},{"x":6090,"y":15},{"x":6120,"y":27},{"x":6150,"y":22},{"x":6180,"y":18},{"x":6210,"y":24},{"x":6240,"y":20},{"x":6270,"y":25},{"x":6300,"y":16},{"x":6330,"y":23},{"x":6360,"y":19},{"x":6390,"y":27},{"x":6420,"y":24},{"x":6450,"y":17},{"x":6480,"y":26},
{"x":6030,"y":13},{"x":6130,"y":12},{"x":6230,"y":14},{"x":6330,"y":11},{"x":6430,"y":13},{"x":6004,"y":4.5},{"x":6292,"y":11.1},{"x":6078,"y":33.6},{"x":6225,"y":32.1},{"x":6350,"y":28},{"x":6150,"y":29},
{"x":6515,"y":21},{"x":6545,"y":25},{"x":6575,"y":16},{"x":6605,"y":23},{"x":6635,"y":26},{"x":6665,"y":18},{"x":6695,"y":22},{"x":6725,"y":15},{"x":6755,"y":24},{"x":6785,"y":19},{"x":6815,"y":23},{"x":6845,"y":17},{"x":6875,"y":21},{"x":6905,"y":26},{"x":6935,"y":14},{"x":6965,"y":22},{"x":6995,"y":18},
{"x":6530,"y":18},{"x":6560,"y":22},{"x":6590,"y":14},{"x":6620,"y":26},{"x":6650,"y":21},{"x":6680,"y":17},{"x":6710,"y":23},{"x":6740,"y":19},{"x":6770,"y":24},{"x":6800,"y":15},{"x":6830,"y":22},{"x":6860,"y":18},{"x":6890,"y":26},{"x":6920,"y":23},{"x":6950,"y":16},{"x":6980,"y":25},
{"x":6530,"y":12},{"x":6630,"y":13},{"x":6730,"y":11},{"x":6830,"y":12},{"x":6930,"y":10},{"x":6670,"y":28.6},{"x":6823,"y":29.1},{"x":6700,"y":27},{"x":6950,"y":28},
{"x":7015,"y":20},{"x":7045,"y":24},{"x":7075,"y":15},{"x":7105,"y":22},{"x":7135,"y":25},{"x":7165,"y":17},{"x":7195,"y":21},{"x":7225,"y":14},{"x":7255,"y":23},{"x":7285,"y":18},{"x":7315,"y":22},{"x":7345,"y":16},{"x":7375,"y":20},{"x":7405,"y":25},{"x":7435,"y":13},{"x":7465,"y":21},{"x":7495,"y":17},
{"x":7030,"y":17},{"x":7060,"y":21},{"x":7090,"y":13},{"x":7120,"y":25},{"x":7150,"y":20},{"x":7180,"y":16},{"x":7210,"y":22},{"x":7240,"y":18},{"x":7270,"y":23},{"x":7300,"y":14},{"x":7330,"y":21},{"x":7360,"y":17},{"x":7390,"y":25},{"x":7420,"y":22},{"x":7450,"y":15},{"x":7480,"y":24},
{"x":7030,"y":12},{"x":7130,"y":11},{"x":7230,"y":13},{"x":7330,"y":12},{"x":7430,"y":11},{"x":7393,"y":30.4},{"x":7111,"y":3.6},{"x":7263,"y":6.9},{"x":7200,"y":26},{"x":7480,"y":19},{"x":7470,"y":14}
]
},
"vconcat":[
{
 "width":682,"height":414,
 "encoding":{
  "x":{"field":"x","type":"quantitative","scale":{"domain":[0,2700],"nice":false},"axis":{"values":[0,500,1000,1500,2000,2500],"title":"Population density (km⁻²)"}},
  "y":{"field":"y","type":"quantitative","scale":{"domain":[0,70],"nice":false},"axis":{"values":[0,20,40,60],"title":"(km person⁻¹ d⁻¹)"}}
 },
 "layer":[
  {"data":{"name":"a"},"mark":{"type":"point","shape":"diamond","filled":true,"size":170,"color":"black","opacity":1}},
  {"data":{"name":"acurve"},"mark":{"type":"line","color":"black","strokeWidth":3,"interpolate":"monotone"}},
  {"data":{"values":[{"label":"(a)","x":198,"y":65.1}]},"mark":{"type":"text","align":"left","baseline":"middle","fontSize":28,"font":"Liberation Serif","color":"black"},"encoding":{"text":{"field":"label"}}}
 ]
},
{
 "width":682,"height":414,
 "encoding":{
  "x":{"field":"x","type":"quantitative","scale":{"domain":[0,7500],"nice":false},"axis":{"values":[0,2500,5000,7500],"title":"Population density (km⁻²)"}},
  "y":{"field":"y","type":"quantitative","scale":{"domain":[0,70],"nice":false},"axis":{"values":[0,20,40,60],"title":"(km person⁻¹ d⁻¹)"}}
 },
 "layer":[
  {"data":{"name":"b"},"mark":{"type":"point","shape":"diamond","filled":true,"size":38,"color":"#4a4a4a","opacity":0.95}},
  {"data":{"name":"bcurve"},"mark":{"type":"line","color":"black","interpolate":"monotone"},
   "encoding":{"strokeWidth":{"field":"series","type":"ordinal","scale":{"domain":["Two-parameter","Three-parameter"],"range":[2,5]},
     "legend":{"title":null,"orient":"none","legendX":425,"legendY":578,"symbolType":"stroke","symbolSize":1600,"symbolStrokeColor":"black","clipHeight":26,"rowPadding":7,"labelFont":"Liberation Serif","labelFontSize":25,"labelLimit":400,"labelColor":"black","labelOffset":2,"padding":6,"strokeColor":"black","fillColor":"white"}}}},
  {"data":{"values":[{"label":"(b)","x":506,"y":64.9}]},"mark":{"type":"text","align":"left","baseline":"middle","fontSize":28,"font":"Liberation Serif","color":"black"},"encoding":{"text":{"field":"label"}}}
 ]
}
]
}
